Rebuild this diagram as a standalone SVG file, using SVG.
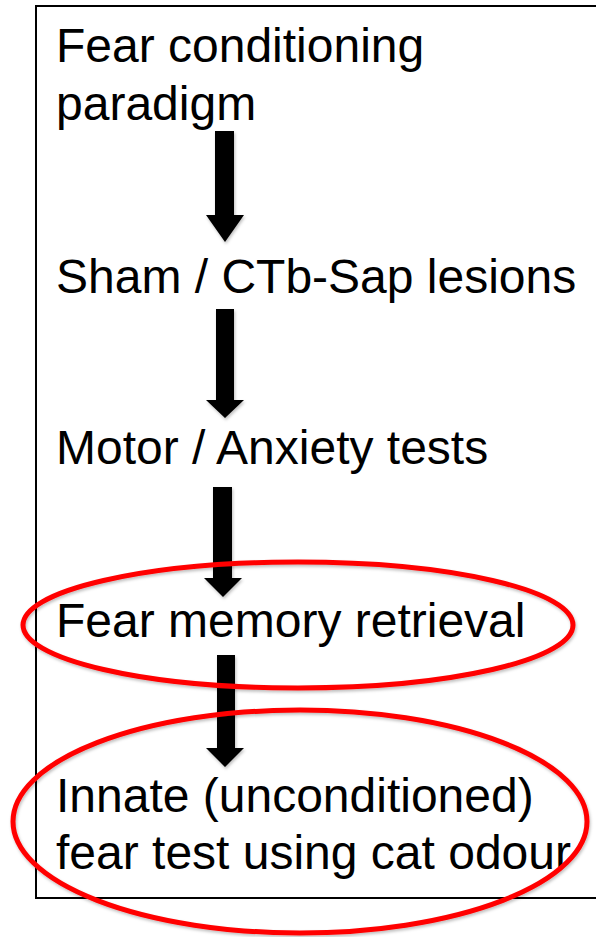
<svg xmlns="http://www.w3.org/2000/svg" width="596" height="937" viewBox="0 0 596 937">
  <style>
    .label { font-family: "Liberation Sans", Arial, sans-serif; font-size: 48px; fill: #000000; }
    .arrow { fill: #000000; filter: url(#shadow); }
    .hl { fill: none; stroke: #FF0000; stroke-width: 5; filter: url(#shadow); }
    .frame { fill: #FFFFFF; stroke: #000000; stroke-width: 2; }
  </style>
  <defs>
    <filter id="shadow" x="-20%" y="-20%" width="140%" height="140%">
      <feDropShadow dx="1" dy="2" stdDeviation="1.5" flood-color="#000000" flood-opacity="0.25"/>
    </filter>
  </defs>
  <rect width="596" height="937" fill="#FFFFFF"/>
  <rect class="frame" x="36" y="6" width="600" height="892"/>

  <g id="node-fear-conditioning">
    <text class="label" x="56" y="62">Fear conditioning</text>
    <text class="label" x="56" y="120">paradigm</text>
  </g>
  <g id="node-lesions">
    <text class="label" x="56" y="293">Sham / CTb-Sap lesions</text>
  </g>
  <g id="node-tests">
    <text class="label" x="56" y="464">Motor / Anxiety tests</text>
  </g>
  <g id="node-retrieval">
    <text class="label" x="56" y="637">Fear memory retrieval</text>
  </g>
  <g id="node-innate">
    <text class="label" x="56" y="812">Innate (unconditioned)</text>
    <text class="label" x="56" y="869">fear test using cat odour</text>
  </g>

  <g id="connectors">
    <polygon class="arrow" points="215,131 234,131 234,215 244,215 225,242 206,215 215,215"/>
    <polygon class="arrow" points="216,309 234,309 234,400 244,400 225,418 206,400 216,400"/>
    <polygon class="arrow" points="213,487 232,487 232,578 242,578 223,597 204,578 213,578"/>
    <polygon class="arrow" points="217,655 235,655 235,748 244,748 225,767 206,748 217,748"/>
  </g>

  <g id="highlight-retrieval">
    <ellipse class="hl" cx="298" cy="625" rx="275" ry="63"/>
  </g>
  <g id="highlight-innate">
    <ellipse class="hl" cx="300" cy="821.5" rx="287" ry="111.5"/>
  </g>
</svg>
